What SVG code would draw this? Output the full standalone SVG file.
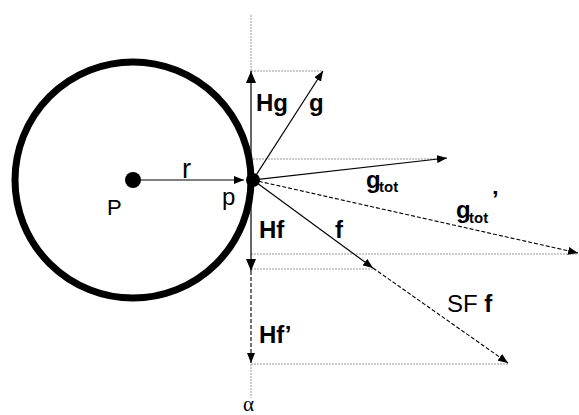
<svg xmlns="http://www.w3.org/2000/svg" width="579" height="415" viewBox="0 0 579 415">
<style>
.t{font-family:"Liberation Sans",Arial,sans-serif;fill:#000}
.b{font-weight:bold;font-size:24px}
.r{font-size:24px}
.s{font-weight:bold;font-size:15px}
.guide{stroke:#999;stroke-width:1;stroke-dasharray:2,1;fill:none}
.vec{stroke:#000;stroke-width:1.2;fill:none}
.dash{stroke:#000;stroke-width:1.1;stroke-dasharray:4,2;fill:none}
</style>
<defs>
<marker id="ah" viewBox="0 0 10 8" refX="10" refY="4" markerWidth="10" markerHeight="8" markerUnits="userSpaceOnUse" orient="auto">
<path d="M0,0 L10,4 L0,8 z" fill="#000"/>
</marker>
<marker id="ahb" viewBox="0 0 12 10" refX="12" refY="5" markerWidth="12" markerHeight="10" markerUnits="userSpaceOnUse" orient="auto">
<path d="M0,0 L12,5 L0,10 z" fill="#000"/>
</marker>
</defs>
<g id="connectors">
<line class="guide" x1="251" y1="15" x2="251" y2="71"/>
<line class="guide" x1="251" y1="364" x2="251" y2="398"/>
<line class="guide" x1="251" y1="71" x2="323" y2="71"/>
<line class="guide" x1="253" y1="159" x2="445" y2="159"/>
<line class="guide" x1="251" y1="254" x2="578" y2="254"/>
<line class="guide" x1="251" y1="269" x2="373" y2="269"/>
<line class="guide" x1="251" y1="364" x2="508" y2="364"/>
<line id="r-vec" x1="141" y1="180" x2="244" y2="180" stroke="#555" stroke-width="1.4" marker-end="url(#ah)"/>
<line id="Hg" class="vec" x1="251" y1="180" x2="251" y2="71" stroke-width="1.4" marker-end="url(#ahb)"/>
<line id="Hf" class="vec" x1="251" y1="180" x2="251" y2="271" stroke-width="1.4" marker-end="url(#ahb)"/>
<line id="Hf2" class="dash" x1="251" y1="271" x2="251" y2="363" marker-end="url(#ah)"/>
<line id="g" class="vec" x1="253" y1="180" x2="323" y2="71" marker-end="url(#ah)"/>
<line id="gtot" class="vec" x1="253" y1="180" x2="447" y2="158" marker-end="url(#ah)"/>
<line id="gtot2" class="dash" x1="253" y1="180" x2="578" y2="253" marker-end="url(#ah)"/>
<line id="f" class="vec" x1="253" y1="180" x2="373" y2="268" marker-end="url(#ah)"/>
<line id="SFf" class="dash" x1="373" y1="268" x2="508" y2="363" marker-end="url(#ah)"/>
</g>
<g id="circle">
<circle cx="133" cy="180" r="118" fill="none" stroke="#000" stroke-width="7"/>
</g>
<g id="P">
<circle cx="133" cy="180" r="8" fill="#000"/>
<text class="t" x="107" y="215" font-size="22">P</text>
</g>
<g id="p">
<circle cx="253" cy="180" r="7" fill="#000"/>
<text class="t r" x="222" y="205">p</text>
</g>
<g id="labels">
<text class="t" x="182" y="178" font-size="27">r</text>
<text class="t b" x="256" y="111">Hg</text>
<text class="t b" x="309" y="111">g</text>
<text class="t b" x="366" y="188">g</text>
<text class="t s" x="379" y="192">tot</text>
<text class="t b" x="456" y="218">g</text>
<text class="t s" x="469" y="223">tot</text>
<text class="t b" x="492" y="208">’</text>
<text class="t b" x="259" y="238">Hf</text>
<text class="t b" x="335" y="238">f</text>
<text class="t r" x="447" y="312">SF <tspan font-weight="bold">f</tspan></text>
<text class="t b" x="259" y="343">Hf’</text>
<text x="243" y="411" font-family="'Liberation Serif','Times New Roman',serif" font-size="21" fill="#000">α</text>
</g>
</svg>
